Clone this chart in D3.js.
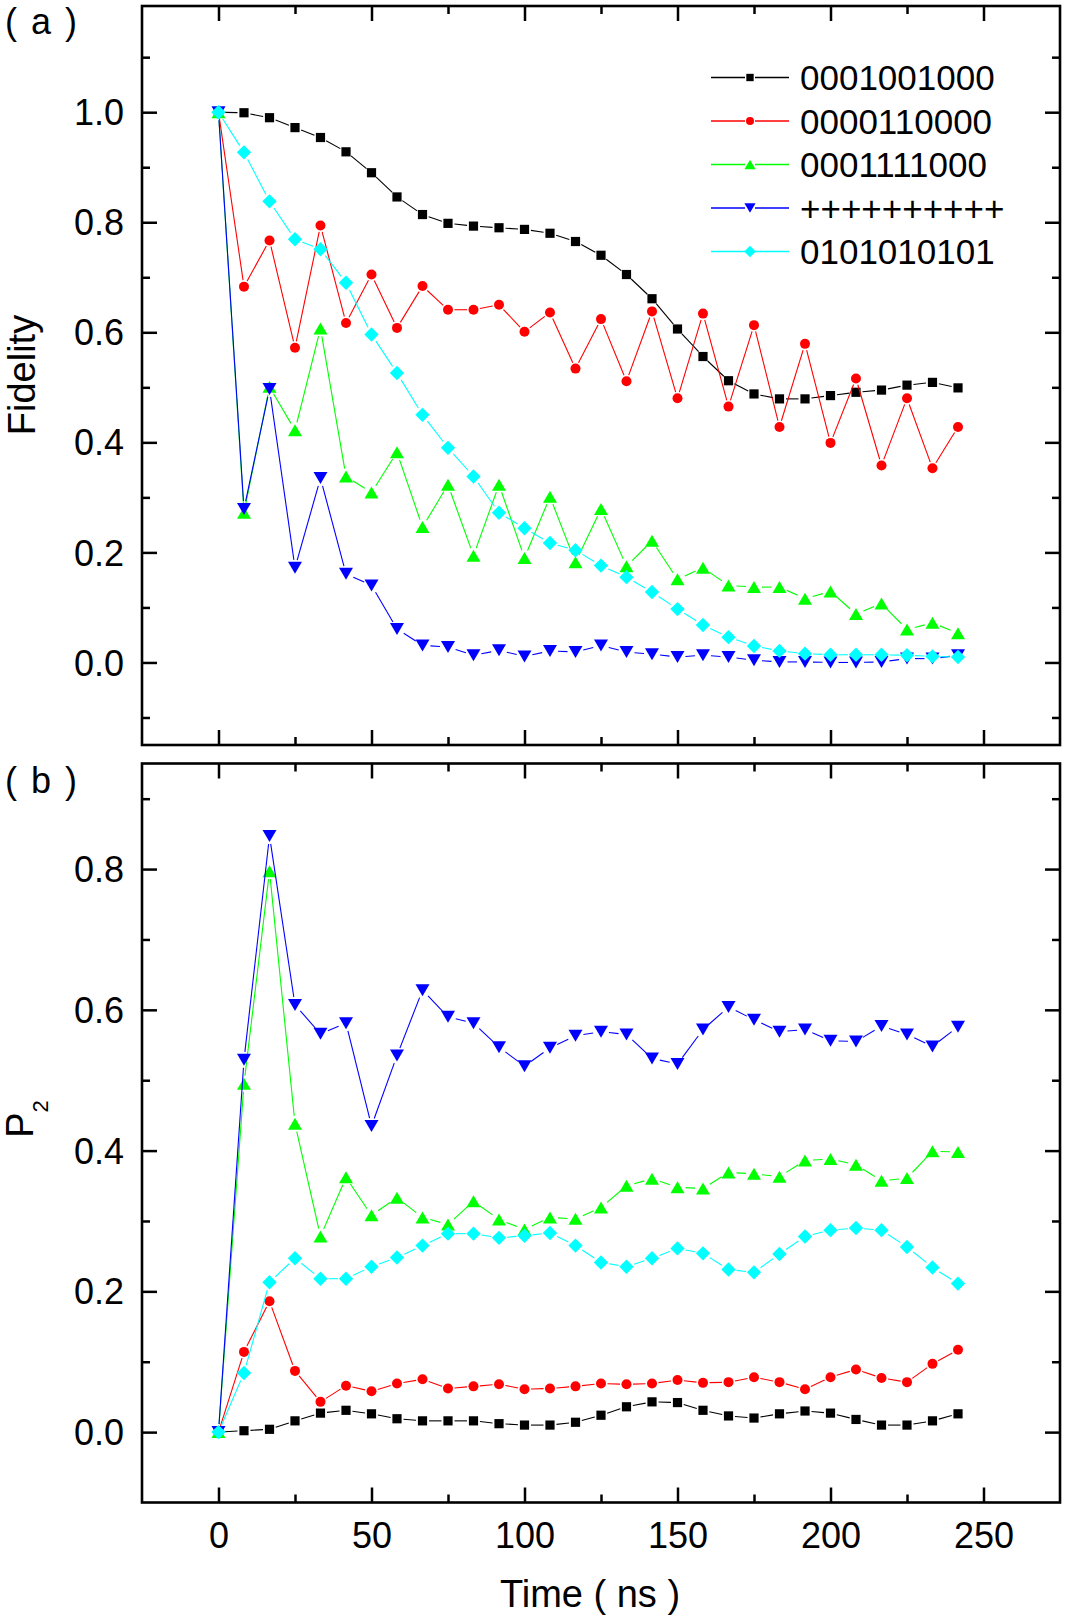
<!DOCTYPE html>
<html>
<head>
<meta charset="utf-8">
<script src="https://cdn.jsdelivr.net/npm/d3@7"></script>
<style>
	body { margin: 0; background: #fff; }
	text { font-family: "Liberation Sans", Arial, Helvetica, sans-serif; fill: #000; }
</style>
</head>
<body>
<div id="chart"></div>
<script>
// time axis (ns)
const TIME = [
	0, 8.33, 16.67, 25, 33.33, 41.67, 50, 58.33, 66.67, 75,
	83.33, 91.67, 100, 108.33, 116.67, 125, 133.33, 141.67, 150, 158.33,
	166.67, 175, 183.33, 191.67, 200, 208.33, 216.67, 225, 233.33, 241.67,
];

const LABELS = ["0001001000", "0000110000", "0001111000", "++++++++++", "0101010101"];

// (a) fidelity
const fid_0001001000 = [
	1.0, 0.999, 0.99, 0.972, 0.954, 0.928, 0.89, 0.846, 0.814, 0.798,
	0.793, 0.79, 0.787, 0.78, 0.765, 0.74, 0.705, 0.661, 0.606, 0.556,
	0.512, 0.488, 0.479, 0.479, 0.485, 0.491, 0.495, 0.504, 0.509, 0.499,
];
const fid_0000110000 = [
	1.0, 0.683, 0.767, 0.572, 0.794, 0.617, 0.705, 0.608, 0.684, 0.641,
	0.641, 0.65, 0.601, 0.636, 0.534, 0.624, 0.511, 0.638, 0.48, 0.634,
	0.465, 0.613, 0.428, 0.579, 0.399, 0.516, 0.358, 0.48, 0.353, 0.428,
];
const fid_0001111000 = [
	1.0, 0.272, 0.501, 0.422, 0.607, 0.338, 0.309, 0.382, 0.246, 0.323,
	0.194, 0.323, 0.19, 0.301, 0.182, 0.279, 0.175, 0.221, 0.151, 0.172,
	0.14, 0.137, 0.137, 0.116, 0.129, 0.088, 0.107, 0.06, 0.072, 0.053,
];
const fid_plus = [
	1.0, 0.279, 0.497, 0.172, 0.335, 0.161, 0.14, 0.061, 0.031, 0.028,
	0.013, 0.022, 0.011, 0.021, 0.019, 0.031, 0.019, 0.015, 0.01, 0.013,
	0.01, 0.004, 0.001, 0.001, 0.0, 0.0, 0.001, 0.007, 0.007, 0.013,
];
const fid_0101010101 = [
	1.0, 0.927, 0.838, 0.769, 0.751, 0.69, 0.596, 0.526, 0.45, 0.39,
	0.338, 0.272, 0.244, 0.217, 0.204, 0.176, 0.155, 0.128, 0.097, 0.068,
	0.046, 0.03, 0.021, 0.016, 0.014, 0.014, 0.014, 0.013, 0.011, 0.01,
];

// (b) P2
const p2_0001001000 = [
	0, 0.002, 0.004, 0.016, 0.027, 0.031, 0.026, 0.019, 0.016, 0.016,
	0.016, 0.012, 0.01, 0.01, 0.014, 0.024, 0.036, 0.043, 0.042, 0.031,
	0.023, 0.02, 0.026, 0.03, 0.027, 0.018, 0.01, 0.01, 0.016, 0.026,
];
const p2_0000110000 = [
	0, 0.114, 0.186, 0.087, 0.043, 0.066, 0.058, 0.069, 0.075, 0.062,
	0.065, 0.068, 0.061, 0.062, 0.065, 0.069, 0.068, 0.069, 0.074, 0.07,
	0.071, 0.078, 0.071, 0.061, 0.078, 0.089, 0.077, 0.071, 0.097, 0.117,
];
const p2_0001111000 = [
	0, 0.495, 0.797, 0.438, 0.278, 0.362, 0.308, 0.333, 0.305, 0.295,
	0.328, 0.302, 0.288, 0.305, 0.303, 0.319, 0.35, 0.36, 0.348, 0.346,
	0.369, 0.367, 0.363, 0.386, 0.388, 0.38, 0.357, 0.361, 0.399, 0.398,
];
const p2_plus = [
	0, 0.529, 0.847, 0.607, 0.566, 0.581, 0.435, 0.535, 0.628, 0.59,
	0.581, 0.547, 0.52, 0.546, 0.563, 0.569, 0.565, 0.531, 0.523, 0.572,
	0.604, 0.586, 0.569, 0.572, 0.556, 0.555, 0.577, 0.565, 0.548, 0.576,
];
const p2_0101010101 = [
	0, 0.084, 0.213, 0.247, 0.218, 0.218, 0.235, 0.248, 0.265, 0.282,
	0.282, 0.276, 0.279, 0.283, 0.265, 0.241, 0.235, 0.247, 0.261, 0.254,
	0.231, 0.227, 0.253, 0.278, 0.287, 0.29, 0.287, 0.263, 0.234, 0.211,
];

// ticks
const X_MAJOR = [0, 50, 100, 150, 200, 250];
const X_MINOR = [25, 75, 125, 175, 225];
const YA_MAJOR = [0, 0.2, 0.4, 0.6, 0.8, 1.0];
const YA_MINOR = [-0.1, 0.1, 0.3, 0.5, 0.7, 0.9, 1.1];
const YB_MAJOR = [0, 0.2, 0.4, 0.6, 0.8];
const YB_MINOR = [0.1, 0.3, 0.5, 0.7, 0.9];

const W = 1066;
const H = 1618;
const left = 142;
const right = 1060;

const series = [
	{ label: LABELS[0], color: "#000000", shape: "square", a: fid_0001001000, b: p2_0001001000 },
	{ label: LABELS[1], color: "#ff0000", shape: "circle", a: fid_0000110000, b: p2_0000110000 },
	{ label: LABELS[2], color: "#00ff00", shape: "up", a: fid_0001111000, b: p2_0001111000 },
	{ label: LABELS[3], color: "#0000ff", shape: "down", a: fid_plus, b: p2_plus },
	{ label: LABELS[4], color: "#00ffff", shape: "diamond", a: fid_0101010101, b: p2_0101010101 },
];

const gapFor = { square: 6.5, circle: 6.5, up: 8, down: 8, diamond: 8 };

function markerPath(shape, s) {
	if (shape === "square") {
		const h = 4.6 * s;
		return `M${-h},${-h}H${h}V${h}H${-h}Z`;
	} else if (shape === "circle") {
		const r = 5 * s;
		return `M${r},0A${r},${r} 0 1 1 ${-r},0A${r},${r} 0 1 1 ${r},0Z`;
	} else if (shape === "up") {
		const w = 7 * s, h = 6 * s;
		return `M0,${-h}L${w},${h}L${-w},${h}Z`;
	} else if (shape === "down") {
		const w = 7 * s, h = 6 * s;
		return `M0,${h}L${w},${-h}L${-w},${-h}Z`;
	} else {
		const d = 7.2 * s;
		return `M0,${-d}L${d},0L0,${d}L${-d},0Z`;
	}
}

const svg = d3
	.select("#chart")
	.append("svg")
	.attr("width", W)
	.attr("height", H);

const x = d3.scaleLinear().domain([-25, 275]).range([left, right]);
const yA = d3.scaleLinear().domain([-0.15, 1.193]).range([745, 6]);
const yB = d3.scaleLinear().domain([-0.1, 0.95]).range([1502.5, 763.5]);

function drawFrame(y, majors, minors, withXLabels) {
	const top = y.range()[1];
	const bottom = y.range()[0];
	const g = svg.append("g");

	const styleTicks = (sel) => {
		sel.select(".domain").remove();
		sel.selectAll(".tick line").attr("stroke", "#000").attr("stroke-width", 2.5);
	};

	// bottom
	g.append("g")
		.attr("transform", `translate(0,${bottom})`)
		.call(d3.axisBottom(x).tickValues(X_MAJOR).tickSizeInner(-15).tickSizeOuter(0)
			.tickFormat(withXLabels ? d3.format("d") : ""))
		.call(styleTicks)
		.call((sel) => sel.selectAll("text")
			.attr("y", 45).attr("dy", null)
			.style("font-size", "36px"));
	g.append("g")
		.attr("transform", `translate(0,${bottom})`)
		.call(d3.axisBottom(x).tickValues(X_MINOR).tickSizeInner(-8).tickSizeOuter(0).tickFormat(""))
		.call(styleTicks);

	// top
	g.append("g")
		.attr("transform", `translate(0,${top})`)
		.call(d3.axisTop(x).tickValues(X_MAJOR).tickSizeInner(-15).tickSizeOuter(0).tickFormat(""))
		.call(styleTicks);
	g.append("g")
		.attr("transform", `translate(0,${top})`)
		.call(d3.axisTop(x).tickValues(X_MINOR).tickSizeInner(-8).tickSizeOuter(0).tickFormat(""))
		.call(styleTicks);

	// left
	g.append("g")
		.attr("transform", `translate(${left},0)`)
		.call(d3.axisLeft(y).tickValues(majors).tickSizeInner(-15).tickSizeOuter(0)
			.tickPadding(18).tickFormat(d3.format(".1f")))
		.call(styleTicks)
		.call((sel) => sel.selectAll("text")
			.attr("dy", "0.35em")
			.style("font-size", "36px"));
	g.append("g")
		.attr("transform", `translate(${left},0)`)
		.call(d3.axisLeft(y).tickValues(minors).tickSizeInner(-8).tickSizeOuter(0).tickFormat(""))
		.call(styleTicks);

	// right
	g.append("g")
		.attr("transform", `translate(${right},0)`)
		.call(d3.axisRight(y).tickValues(majors).tickSizeInner(-15).tickSizeOuter(0).tickFormat(""))
		.call(styleTicks);
	g.append("g")
		.attr("transform", `translate(${right},0)`)
		.call(d3.axisRight(y).tickValues(minors).tickSizeInner(-8).tickSizeOuter(0).tickFormat(""))
		.call(styleTicks);

	g.append("rect")
		.attr("x", left)
		.attr("y", top)
		.attr("width", right - left)
		.attr("height", bottom - top)
		.attr("fill", "none")
		.attr("stroke", "#000")
		.attr("stroke-width", 2.6);
}

function drawSeries(y, key) {
	series.forEach((s) => {
		const g = svg.append("g");
		const pts = TIME.map((t, i) => [x(t), y(s[key][i])]);
		const gap = gapFor[s.shape];
		const segs = d3.pairs(pts)
			.map(([p, q]) => {
				const dx = q[0] - p[0], dy = q[1] - p[1];
				const len = Math.hypot(dx, dy);
				if (len <= 2 * gap) return null;
				const ux = dx / len, uy = dy / len;
				return [p[0] + ux * gap, p[1] + uy * gap, q[0] - ux * gap, q[1] - uy * gap];
			})
			.filter((d) => d);

		g.selectAll("line")
			.data(segs)
			.enter()
			.append("line")
			.attr("x1", (d) => d[0])
			.attr("y1", (d) => d[1])
			.attr("x2", (d) => d[2])
			.attr("y2", (d) => d[3])
			.attr("stroke", s.color)
			.attr("stroke-width", 1.1);

		g.selectAll("path")
			.data(pts)
			.enter()
			.append("path")
			.attr("transform", (d) => `translate(${d[0]},${d[1]})`)
			.attr("d", markerPath(s.shape, 1))
			.attr("fill", s.color);
	});
}

drawFrame(yA, YA_MAJOR, YA_MINOR, false);
drawFrame(yB, YB_MAJOR, YB_MINOR, true);
drawSeries(yA, "a");
drawSeries(yB, "b");

// legend
const legend = svg.append("g");
series.forEach((s, i) => {
	const ly = 77.5 + i * 43.5;
	const row = legend.append("g").attr("transform", `translate(0,${ly})`);
	row.append("line")
		.attr("x1", 711).attr("x2", 745).attr("y1", 0).attr("y2", 0)
		.attr("stroke", s.color).attr("stroke-width", 1.3);
	row.append("line")
		.attr("x1", 755).attr("x2", 789).attr("y1", 0).attr("y2", 0)
		.attr("stroke", s.color).attr("stroke-width", 1.3);
	row.append("path")
		.attr("transform", "translate(750,0)")
		.attr("d", markerPath(s.shape, 0.8))
		.attr("fill", s.color);
	row.append("text")
		.attr("x", 800)
		.attr("dy", "0.36em")
		.style("font-size", "35px")
		.text(s.label);
});

// panel labels
svg.append("text")
	.attr("x", 5)
	.attr("y", 34)
	.style("font-size", "36px")
	.style("letter-spacing", "2px")
	.style("white-space", "pre")
	.text("( a )");

svg.append("text")
	.attr("x", 5)
	.attr("y", 793)
	.style("font-size", "36px")
	.style("letter-spacing", "2px")
	.style("white-space", "pre")
	.text("( b )");

// axis titles
svg.append("text")
	.attr("text-anchor", "middle")
	.attr("transform", "translate(35,375) rotate(-90)")
	.style("font-size", "38px")
	.text("Fidelity");

const p2Label = svg.append("text")
	.attr("text-anchor", "middle")
	.attr("transform", "translate(33,1119) rotate(-90)")
	.style("font-size", "38px");
p2Label.append("tspan").text("P");
p2Label.append("tspan").attr("dy", 15).style("font-size", "22px").text("2");

svg.append("text")
	.attr("text-anchor", "middle")
	.attr("x", 590)
	.attr("y", 1607)
	.style("font-size", "38px")
	.style("white-space", "pre")
	.text("Time ( ns )");
</script>
</body>
</html>
